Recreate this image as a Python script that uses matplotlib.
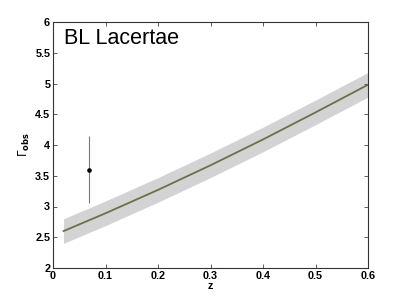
import numpy as np
import matplotlib
matplotlib.use("Agg")
import matplotlib.pyplot as plt

# model curve with band
z_model = [0.02, 0.1, 0.2, 0.3, 0.4, 0.5, 0.6]
gamma_model = [2.60, 2.89, 3.27, 3.67, 4.09, 4.53, 4.98]
gamma_lo = [2.40, 2.69, 3.07, 3.47, 3.89, 4.33, 4.78]
gamma_hi = [2.80, 3.09, 3.47, 3.87, 4.29, 4.73, 5.18]

# observed point
z_obs = [0.068]
gamma_obs = [3.6]
err_lo = [0.55]
err_hi = [0.55]

xticks = [0, 0.1, 0.2, 0.3, 0.4, 0.5, 0.6]
xticklabels = ["0", "0.1", "0.2", "0.3", "0.4", "0.5", "0.6"]
yticks = [2, 2.5, 3, 3.5, 4, 4.5, 5, 5.5, 6]
yticklabels = ["2", "2.5", "3", "3.5", "4", "4.5", "5", "5.5", "6"]

plt.rcParams["font.family"] = ["Liberation Sans", "DejaVu Sans"]

fig = plt.figure(figsize=(4.07, 3.02), dpi=100)
ax = fig.add_axes([53 / 407, 1 - 268 / 302, 315 / 407, 246 / 302])

ax.fill_between(z_model, gamma_lo, gamma_hi, color="#d3d3d3", lw=0)
ax.plot(z_model, gamma_model, color="#6e6e4c", lw=1.3)
ax.errorbar(z_obs, gamma_obs, yerr=[err_lo, err_hi], fmt="o", color="black",
            ms=2.3, ecolor="#777777", elinewidth=0.8, capsize=0)

ax.set_xlim(0, 0.6)
ax.set_ylim(2, 6)
ax.set_xticks(xticks)
ax.set_xticklabels(xticklabels, fontweight="bold", fontsize=7.8)
ax.set_yticks(yticks)
ax.set_yticklabels(yticklabels, fontweight="bold", fontsize=7.8)
ax.tick_params(direction="in", top=True, right=True, length=3, width=0.6, pad=2,
               color="#444444")
for s in ax.spines.values():
    s.set_linewidth(0.8)
    s.set_color("#333333")

ax.set_xlabel("z", fontweight="bold", fontsize=7.8, labelpad=0)
ax.set_ylabel(r"$\Gamma_{\mathbf{obs}}$", fontsize=8.5, labelpad=2)
ax.text(0.035, 0.975, "BL Lacertae", transform=ax.transAxes, fontsize=15.5,
        va="top", ha="left")

fig.savefig("out.png", dpi=100)
